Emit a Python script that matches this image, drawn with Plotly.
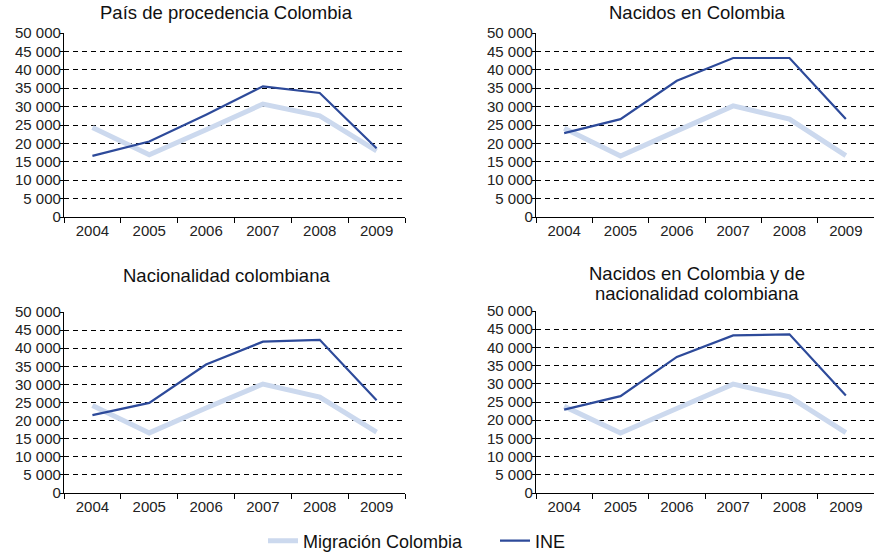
import plotly.graph_objects as go

years = ["2004", "2005", "2006", "2007", "2008", "2009"]

titles = [
    "País de procedencia Colombia",
    "Nacidos en Colombia",
    "Nacionalidad colombiana",
    "Nacidos en Colombia y de<br>nacionalidad colombiana",
]

migracion_p1 = [24300, 16900, 23700, 30700, 27500, 18000]
ine_p1 = [16600, 20500, 27800, 35500, 33700, 18700]

migracion_p2 = [24100, 16600, 23400, 30200, 26600, 16700]
ine_p2 = [22800, 26600, 37000, 43200, 43200, 26600]

migracion_p3 = [24200, 16600, 23500, 30100, 26500, 16800]
ine_p3 = [21500, 24900, 35500, 41800, 42300, 25600]

migracion_p4 = [23800, 16500, 23200, 29900, 26400, 16600]
ine_p4 = [22900, 26600, 37400, 43300, 43600, 26800]

ytick_vals = [0, 5000, 10000, 15000, 20000, 25000, 30000, 35000, 40000, 45000, 50000]
ytick_text = ["0", "5 000", "10 000", "15 000", "20 000", "25 000", "30 000",
              "35 000", "40 000", "45 000", "50 000"]

series_name_mig = "Migración Colombia"
series_name_ine = "INE"
color_mig = "#CCD9EE"
color_ine = "#2D4A9A"

W, H = 879, 553
panels = [
    (migracion_p1, ine_p1, (64, 405), (33, 217), (227, 13)),
    (migracion_p2, ine_p2, (536, 874), (33, 217), (697, 13)),
    (migracion_p3, ine_p3, (64, 405), (312, 493), (227, 275)),
    (migracion_p4, ine_p4, (536, 874), (311, 493), (697, 283)),
]
TITLE_LINE_GAP = 20

fig = go.Figure()
font_family = "Liberation Sans, Arial, sans-serif"

def px(x):
    return x / W

def py(y):
    return 1 - y / H

for i, (mig, ine, (x0, x1), (y0, y1), (tx, ty)) in enumerate(panels):
    idx = "" if i == 0 else str(i + 1)
    xa = "x" + idx
    ya = "y" + idx
    fig.add_trace(go.Scatter(x=years, y=mig, mode="lines", name=series_name_mig,
                             line=dict(color=color_mig, width=5),
                             xaxis=xa, yaxis=ya, showlegend=(i == 0)))
    fig.add_trace(go.Scatter(x=years, y=ine, mode="lines", name=series_name_ine,
                             line=dict(color=color_ine, width=2.2),
                             xaxis=xa, yaxis=ya, showlegend=(i == 0)))
    fig.layout["xaxis" + idx] = dict(
        domain=[px(x0), px(x1)], anchor=ya, type="category",
        categoryorder="array", categoryarray=years,
        range=[-0.5, 5.5], tickson="boundaries", ticks="outside", ticklen=5,
        tickcolor="#000", showline=True, linecolor="#000", linewidth=1.2,
        showgrid=False, zeroline=False, automargin=False,
        tickfont=dict(size=15, color="#222", family=font_family),
        fixedrange=True,
    )
    fig.layout["yaxis" + idx] = dict(
        domain=[py(y1), py(y0)], anchor=xa,
        range=[0, 50000], tickvals=ytick_vals, ticktext=ytick_text,
        ticks="outside", ticklen=3, tickcolor="#000", ticklabelstandoff=-4,
        showline=True, linecolor="#000", linewidth=1.2,
        showgrid=True, gridcolor="#000", gridwidth=1, griddash="5px,4px",
        zeroline=False, automargin=False,
        tickfont=dict(size=15, color="#222", family=font_family),
        fixedrange=True,
    )
    lines = titles[i].split("<br>")
    n = len(lines)
    for k, line_text in enumerate(lines):
        yy = ty + (k - (n - 1) / 2) * TITLE_LINE_GAP
        fig.add_annotation(text=line_text, x=px(tx), y=py(yy), xref="paper", yref="paper",
                           xanchor="center", yanchor="middle", showarrow=False,
                           font=dict(size=18.5, color="#111", family=font_family))

fig.update_layout(
    width=W, height=H,
    margin=dict(l=0, r=0, t=0, b=0, autoexpand=False),
    paper_bgcolor="white", plot_bgcolor="white",
    showlegend=True,
    hovermode=False,
    legend=dict(orientation="h", x=px(263), xanchor="left", y=py(541), yanchor="middle",
                font=dict(size=18, color="#111", family=font_family),
                entrywidth=187, entrywidthmode="pixels",
                itemwidth=30, tracegroupgap=0),
)

fig.write_html("out.html", config={"displayModeBar": False},
               post_script="document.body.style.margin='0px';")
